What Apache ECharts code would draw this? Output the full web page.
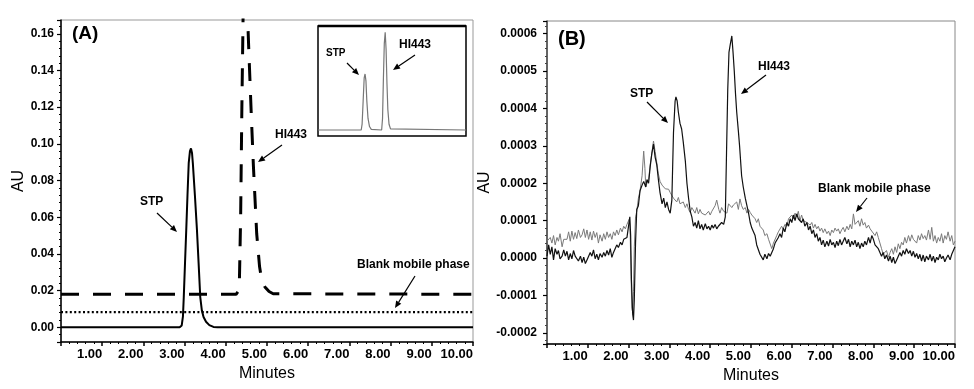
<!DOCTYPE html>
<html>
<head>
<meta charset="utf-8">
<title>HPLC chromatograms</title>
<script src="https://cdn.jsdelivr.net/npm/echarts@6/dist/echarts.min.js"></script>
<style>
html, body { margin: 0; padding: 0; background: #fff; }
#chart { width: 974px; height: 389px; }
</style>
</head>
<body>
<div id="chart"></div>
<script>
// panel A, [minutes, AU]
const stpA = [[0, 0], [2.88, 0], [2.93, 0.001], [2.96, 0.006], [2.98, 0.0165], [3.01, 0.035], [3.04, 0.053],
  [3.07, 0.072], [3.10, 0.0895], [3.13, 0.096], [3.155, 0.0975], [3.18, 0.095], [3.20, 0.0895], [3.25, 0.072],
  [3.30, 0.053], [3.34, 0.035], [3.38, 0.0165], [3.42, 0.009], [3.46, 0.0056], [3.52, 0.003], [3.60, 0.0012],
  [3.70, 0.0002], [3.80, 0], [10, 0]]
const hi443A = [[0, 0.018], [4.25, 0.018], [4.30, 0.0195], [4.33, 0.025], [4.36, 0.06], [4.39, 0.12], [4.42, 0.17],
  [4.47, 0.19], [4.52, 0.175], [4.56, 0.15], [4.62, 0.115], [4.67, 0.088], [4.75, 0.051], [4.82, 0.033],
  [4.87, 0.026], [4.95, 0.022], [5.05, 0.0195], [5.15, 0.0183], [10, 0.018]]
const blankA = [[0, 0.0083], [10, 0.0083]]
// inset: whole chromatogram of the mix
const insetA = [[0, 0], [2.92, 0], [2.98, 0.01], [3.05, 0.05], [3.12, 0.09], [3.18, 0.097], [3.24, 0.085],
  [3.30, 0.05], [3.38, 0.02], [3.48, 0.006], [3.60, 0.001], [3.70, 0], [4.30, 0], [4.36, 0.02], [4.42, 0.09],
  [4.48, 0.15], [4.54, 0.169], [4.60, 0.14], [4.66, 0.08], [4.72, 0.035], [4.80, 0.01], [4.90, 0.002],
  [5.0, 0], [10, 0]]

// panel B, [minutes, AU]
const sampleB = [[0.00, 0.05e-4], [0.04, 0.35e-4], [0.08, 0.10e-4], [0.12, 0.30e-4], [0.16, -0.05e-4], [0.20, 0.25e-4],
  [0.245, 0.10e-4], [0.28, 0.20e-4], [0.32, -0.02e-4], [0.37, 0.05e-4], [0.41, 0.22e-4], [0.45, 0.05e-4],
  [0.49, 0.18e-4], [0.53, -0.05e-4], [0.57, 0.12e-4], [0.61, -0.02e-4], [0.65, 0.20e-4], [0.69, 0.05e-4],
  [0.73, 0.08e-4], [0.77, -0.08e-4], [0.82, 0.05e-4], [0.86, -0.12e-4], [0.90, 0.02e-4], [0.94, -0.15e-4],
  [0.98, -0.05e-4], [1.02, -0.10e-4], [1.06, 0.15e-4], [1.10, 0.05e-4], [1.14, 0.22e-4], [1.18, -0.02e-4],
  [1.22, 0.10e-4], [1.26, -0.05e-4], [1.30, 0.12e-4], [1.35, 0.02e-4], [1.39, 0.15e-4], [1.43, 0.05e-4],
  [1.47, 0.20e-4], [1.51, 0.08e-4], [1.55, 0.25e-4], [1.59, 0.02e-4], [1.63, 0.15e-4], [1.67, 0.20e-4],
  [1.71, 0.35e-4], [1.75, 0.28e-4], [1.80, 0.42e-4], [1.84, 0.35e-4], [1.88, 0.50e-4], [1.92, 0.45e-4],
  [1.96, 0.55e-4], [2.00, 0.50e-4], [2.03, 1.10e-4], [2.05, 0.60e-4], [2.07, -0.60e-4], [2.10, -1.50e-4],
  [2.12, -1.66e-4], [2.14, -1.10e-4], [2.17, 0.40e-4], [2.20, 1.30e-4], [2.24, 1.40e-4], [2.28, 1.80e-4],
  [2.33, 1.95e-4], [2.37, 2.05e-4], [2.42, 1.90e-4], [2.45, 2.10e-4], [2.49, 2.00e-4], [2.53, 2.45e-4],
  [2.57, 2.80e-4], [2.61, 3.05e-4], [2.65, 2.70e-4], [2.69, 2.50e-4], [2.73, 2.10e-4], [2.77, 1.75e-4],
  [2.82, 1.45e-4], [2.86, 1.60e-4], [2.90, 1.35e-4], [2.94, 1.50e-4], [2.98, 1.30e-4], [3.02, 1.20e-4],
  [3.06, 1.55e-4], [3.10, 3.35e-4], [3.14, 4.20e-4], [3.16, 4.31e-4], [3.19, 4.20e-4], [3.22, 3.90e-4],
  [3.26, 3.60e-4], [3.30, 3.45e-4], [3.34, 3.10e-4], [3.39, 2.60e-4], [3.43, 2.00e-4], [3.47, 1.60e-4],
  [3.51, 1.25e-4], [3.55, 1.10e-4], [3.59, 0.85e-4], [3.63, 0.95e-4], [3.67, 0.80e-4], [3.71, 1.00e-4],
  [3.75, 0.78e-4], [3.79, 0.90e-4], [3.83, 0.75e-4], [3.88, 0.92e-4], [3.92, 0.78e-4], [3.96, 0.85e-4],
  [4.00, 0.75e-4], [4.04, 0.88e-4], [4.08, 0.80e-4], [4.12, 0.90e-4], [4.16, 0.78e-4], [4.20, 0.85e-4],
  [4.24, 0.80e-4], [4.28, 0.95e-4], [4.33, 0.90e-4], [4.37, 1.10e-4], [4.40, 2.80e-4], [4.43, 4.50e-4],
  [4.46, 5.50e-4], [4.49, 5.70e-4], [4.51, 5.65e-4], [4.53, 5.94e-4], [4.56, 5.50e-4], [4.59, 5.00e-4],
  [4.62, 4.40e-4], [4.65, 3.90e-4], [4.69, 3.40e-4], [4.72, 3.00e-4], [4.77, 2.20e-4], [4.81, 1.90e-4],
  [4.86, 1.60e-4], [4.90, 1.40e-4], [4.94, 1.20e-4], [4.98, 0.95e-4], [5.02, 0.80e-4], [5.06, 0.70e-4],
  [5.10, 0.60e-4], [5.14, 0.35e-4], [5.18, 0.30e-4], [5.22, 0.10e-4], [5.26, 0.15e-4], [5.30, -0.05e-4],
  [5.34, 0.10e-4], [5.39, -0.02e-4], [5.43, 0.12e-4], [5.47, 0.05e-4], [5.51, 0.15e-4], [5.55, 0.25e-4],
  [5.59, 0.40e-4], [5.63, 0.35e-4], [5.67, 0.55e-4], [5.71, 0.65e-4], [5.75, 0.55e-4], [5.79, 0.80e-4],
  [5.83, 0.70e-4], [5.88, 0.95e-4], [5.92, 0.85e-4], [5.96, 1.05e-4], [6.00, 0.95e-4], [6.04, 1.15e-4],
  [6.08, 1.00e-4], [6.12, 1.18e-4], [6.16, 1.05e-4], [6.20, 1.10e-4], [6.24, 0.95e-4], [6.28, 1.05e-4],
  [6.32, 0.85e-4], [6.37, 0.95e-4], [6.41, 0.75e-4], [6.45, 0.85e-4], [6.49, 0.65e-4], [6.53, 0.75e-4],
  [6.57, 0.55e-4], [6.61, 0.65e-4], [6.65, 0.45e-4], [6.69, 0.55e-4], [6.73, 0.35e-4], [6.77, 0.48e-4],
  [6.81, 0.30e-4], [6.86, 0.45e-4], [6.90, 0.32e-4], [6.94, 0.50e-4], [6.98, 0.35e-4], [7.02, 0.42e-4],
  [7.06, 0.28e-4], [7.10, 0.45e-4], [7.14, 0.33e-4], [7.18, 0.50e-4], [7.22, 0.35e-4], [7.26, 0.40e-4],
  [7.30, 0.55e-4], [7.35, 0.38e-4], [7.39, 0.50e-4], [7.43, 0.30e-4], [7.47, 0.45e-4], [7.51, 0.35e-4],
  [7.55, 0.48e-4], [7.59, 0.30e-4], [7.63, 0.42e-4], [7.67, 0.25e-4], [7.71, 0.40e-4], [7.75, 0.30e-4],
  [7.79, 0.45e-4], [7.83, 0.35e-4], [7.88, 0.55e-4], [7.92, 0.40e-4], [7.96, 0.60e-4], [8.00, 0.50e-4],
  [8.04, 0.35e-4], [8.08, 0.40e-4], [8.12, 0.25e-4], [8.16, 0.20e-4], [8.20, 0.05e-4], [8.24, 0.15e-4],
  [8.28, -0.02e-4], [8.32, 0.08e-4], [8.37, -0.08e-4], [8.41, 0.05e-4], [8.45, -0.12e-4], [8.49, 0.02e-4],
  [8.53, -0.15e-4], [8.57, -0.05e-4], [8.61, 0.05e-4], [8.65, 0.15e-4], [8.69, 0.05e-4], [8.73, 0.20e-4],
  [8.77, 0.10e-4], [8.81, 0.25e-4], [8.86, 0.12e-4], [8.90, 0.20e-4], [8.94, 0.05e-4], [8.98, 0.18e-4],
  [9.02, 0.02e-4], [9.06, 0.12e-4], [9.10, -0.02e-4], [9.14, 0.10e-4], [9.18, -0.08e-4], [9.22, 0.08e-4],
  [9.26, -0.10e-4], [9.30, 0.05e-4], [9.35, -0.05e-4], [9.39, 0.10e-4], [9.43, -0.08e-4], [9.47, 0.05e-4],
  [9.51, -0.12e-4], [9.55, 0.02e-4], [9.59, -0.05e-4], [9.63, 0.10e-4], [9.67, -0.02e-4], [9.71, 0.05e-4],
  [9.75, -0.10e-4], [9.79, 0.00], [9.83, 0.08e-4], [9.88, -0.05e-4], [9.92, 0.10e-4], [9.96, 0.20e-4],
  [10.0, 0.30e-4]]
const blankB = [[0.00, 0.45e-4], [0.04, 0.42e-4], [0.08, 0.55e-4], [0.12, 0.40e-4], [0.16, 0.60e-4], [0.20, 0.35e-4],
  [0.245, 0.55e-4], [0.28, 0.45e-4], [0.32, 0.65e-4], [0.37, 0.30e-4], [0.41, 0.50e-4], [0.45, 0.55e-4],
  [0.49, 0.50e-4], [0.53, 0.70e-4], [0.57, 0.45e-4], [0.61, 0.72e-4], [0.65, 0.50e-4], [0.69, 0.68e-4],
  [0.73, 0.52e-4], [0.77, 0.75e-4], [0.82, 0.55e-4], [0.86, 0.62e-4], [0.90, 0.78e-4], [0.94, 0.55e-4],
  [0.98, 0.75e-4], [1.02, 0.50e-4], [1.06, 0.70e-4], [1.10, 0.48e-4], [1.14, 0.72e-4], [1.18, 0.55e-4],
  [1.22, 0.68e-4], [1.26, 0.40e-4], [1.30, 0.62e-4], [1.35, 0.45e-4], [1.39, 0.65e-4], [1.43, 0.50e-4],
  [1.47, 0.70e-4], [1.51, 0.55e-4], [1.55, 0.65e-4], [1.59, 0.50e-4], [1.63, 0.70e-4], [1.67, 0.60e-4],
  [1.71, 0.75e-4], [1.75, 0.62e-4], [1.80, 0.80e-4], [1.84, 0.70e-4], [1.88, 0.85e-4], [1.92, 0.78e-4],
  [1.96, 0.90e-4], [2.00, 0.85e-4], [2.02, 1.05e-4], [2.04, 0.60e-4], [2.06, -0.50e-4], [2.08, -1.35e-4],
  [2.10, -1.45e-4], [2.12, -0.90e-4], [2.14, 0.30e-4], [2.17, 1.10e-4], [2.20, 1.25e-4], [2.24, 1.60e-4],
  [2.28, 1.80e-4], [2.33, 2.20e-4], [2.37, 2.86e-4], [2.40, 2.40e-4], [2.42, 1.90e-4], [2.45, 2.00e-4],
  [2.49, 2.10e-4], [2.53, 2.50e-4], [2.57, 2.80e-4], [2.61, 3.13e-4], [2.65, 2.85e-4], [2.69, 2.55e-4],
  [2.73, 2.25e-4], [2.77, 2.05e-4], [2.82, 1.95e-4], [2.86, 1.90e-4], [2.90, 1.85e-4], [2.94, 1.80e-4],
  [2.98, 1.84e-4], [3.02, 1.75e-4], [3.06, 1.76e-4], [3.10, 1.60e-4], [3.14, 1.58e-4], [3.18, 1.50e-4],
  [3.22, 1.62e-4], [3.26, 1.45e-4], [3.30, 1.40e-4], [3.34, 1.50e-4], [3.39, 1.35e-4], [3.43, 1.45e-4],
  [3.47, 1.30e-4], [3.51, 1.22e-4], [3.55, 1.35e-4], [3.59, 1.30e-4], [3.63, 1.20e-4], [3.67, 1.35e-4],
  [3.71, 1.18e-4], [3.75, 1.30e-4], [3.79, 1.20e-4], [3.83, 1.25e-4], [3.88, 1.15e-4], [3.92, 1.10e-4],
  [3.96, 1.25e-4], [4.00, 1.15e-4], [4.04, 1.25e-4], [4.08, 1.20e-4], [4.12, 1.40e-4], [4.16, 1.55e-4],
  [4.18, 1.60e-4], [4.21, 1.30e-4], [4.24, 1.20e-4], [4.28, 1.35e-4], [4.33, 1.25e-4], [4.37, 1.30e-4],
  [4.41, 1.20e-4], [4.45, 1.45e-4], [4.49, 1.50e-4], [4.53, 1.35e-4], [4.57, 1.42e-4], [4.61, 1.40e-4],
  [4.65, 1.50e-4], [4.69, 1.30e-4], [4.73, 1.58e-4], [4.77, 1.40e-4], [4.81, 1.30e-4], [4.86, 1.35e-4],
  [4.90, 1.20e-4], [4.94, 1.30e-4], [4.98, 1.22e-4], [5.02, 1.15e-4], [5.06, 1.20e-4], [5.10, 1.05e-4],
  [5.14, 0.95e-4], [5.18, 1.05e-4], [5.22, 0.85e-4], [5.26, 0.90e-4], [5.30, 0.75e-4], [5.34, 0.60e-4],
  [5.39, 0.65e-4], [5.43, 0.50e-4], [5.47, 0.55e-4], [5.51, 0.25e-4], [5.55, 0.40e-4], [5.59, 0.45e-4],
  [5.63, 0.60e-4], [5.67, 0.70e-4], [5.71, 0.65e-4], [5.75, 0.85e-4], [5.79, 0.78e-4], [5.83, 0.90e-4],
  [5.88, 0.85e-4], [5.92, 1.05e-4], [5.96, 1.00e-4], [6.00, 1.15e-4], [6.04, 1.05e-4], [6.08, 1.20e-4],
  [6.12, 1.10e-4], [6.16, 1.25e-4], [6.20, 1.00e-4], [6.24, 1.15e-4], [6.28, 1.00e-4], [6.32, 1.05e-4],
  [6.37, 0.95e-4], [6.41, 1.00e-4], [6.45, 0.88e-4], [6.49, 0.95e-4], [6.53, 0.80e-4], [6.57, 0.90e-4],
  [6.61, 0.78e-4], [6.65, 0.85e-4], [6.69, 0.72e-4], [6.73, 0.80e-4], [6.77, 0.68e-4], [6.81, 0.78e-4],
  [6.86, 0.65e-4], [6.90, 0.72e-4], [6.94, 0.60e-4], [6.98, 0.75e-4], [7.02, 0.68e-4], [7.06, 0.80e-4],
  [7.10, 0.72e-4], [7.14, 0.78e-4], [7.18, 0.65e-4], [7.22, 0.75e-4], [7.26, 0.82e-4], [7.30, 0.70e-4],
  [7.35, 0.85e-4], [7.39, 0.75e-4], [7.43, 0.90e-4], [7.47, 0.78e-4], [7.51, 1.18e-4], [7.55, 0.90e-4],
  [7.59, 0.92e-4], [7.63, 1.00e-4], [7.67, 0.85e-4], [7.71, 1.05e-4], [7.75, 0.88e-4], [7.79, 0.95e-4],
  [7.83, 0.80e-4], [7.88, 0.88e-4], [7.92, 0.78e-4], [7.96, 0.72e-4], [8.00, 0.70e-4], [8.04, 0.60e-4],
  [8.08, 0.70e-4], [8.12, 0.55e-4], [8.16, 0.50e-4], [8.20, 0.25e-4], [8.24, 0.10e-4], [8.28, 0.05e-4],
  [8.32, 0.20e-4], [8.37, 0.02e-4], [8.41, 0.15e-4], [8.45, 0.25e-4], [8.49, 0.10e-4], [8.53, 0.30e-4],
  [8.57, 0.15e-4], [8.61, 0.38e-4], [8.65, 0.25e-4], [8.69, 0.42e-4], [8.73, 0.35e-4], [8.77, 0.55e-4],
  [8.81, 0.40e-4], [8.86, 0.60e-4], [8.90, 0.45e-4], [8.94, 0.62e-4], [8.98, 0.50e-4], [9.02, 0.55e-4],
  [9.06, 0.40e-4], [9.10, 0.60e-4], [9.14, 0.48e-4], [9.18, 0.65e-4], [9.22, 0.52e-4], [9.26, 0.60e-4],
  [9.30, 0.48e-4], [9.35, 0.75e-4], [9.39, 0.50e-4], [9.43, 0.82e-4], [9.47, 0.45e-4], [9.51, 0.60e-4],
  [9.55, 0.40e-4], [9.59, 0.55e-4], [9.63, 0.45e-4], [9.67, 0.65e-4], [9.71, 0.40e-4], [9.75, 0.60e-4],
  [9.79, 0.50e-4], [9.83, 0.70e-4], [9.88, 0.45e-4], [9.92, 0.60e-4], [9.96, 0.35e-4], [10.0, 0.45e-4]]

const FONT = '"Liberation Sans", Arial, sans-serif'

function timeAxis(gridIndex) {
  return {
    type: 'value', gridIndex: gridIndex, min: 0, max: 10, interval: 1,
    axisLine: { onZero: false, lineStyle: { color: '#000', width: 1.5 } },
    axisTick: { length: 4, lineStyle: { color: '#000', width: 1.5 } },
    minorTick: { show: true, splitNumber: 5, length: 2, lineStyle: { color: '#000', width: 1 } },
    splitLine: { show: false },
    axisLabel: {
      align: 'right', margin: 6, color: '#000', fontFamily: FONT, fontSize: 13, fontWeight: 'bold',
      formatter: v => v === 0 ? '' : v.toFixed(2)
    },
    name: 'Minutes', nameLocation: 'middle', nameGap: 18,
    nameTextStyle: { color: '#000', fontFamily: FONT, fontSize: 16 }
  }
}

function auAxis(gridIndex, min, max, digits, gap, lineColor) {
  return {
    type: 'value', gridIndex: gridIndex, min: min, max: max, splitNumber: 8,
    axisLine: { show: true, onZero: false, lineStyle: { color: lineColor, width: 1.5 } },
    axisTick: { length: 4, lineStyle: { color: '#000', width: 1.2 } },
    minorTick: { show: true, splitNumber: 5, length: 2, lineStyle: { color: '#444', width: 1 } },
    splitLine: { show: false },
    axisLabel: {
      showMinLabel: false, showMaxLabel: false, margin: digits > 2 ? 10 : 7,
      color: '#000', fontFamily: FONT, fontSize: 12, fontWeight: 'bold',
      formatter: v => v.toFixed(digits)
    },
    name: 'AU', nameLocation: 'middle', nameGap: gap, nameRotate: 90,
    nameTextStyle: { color: '#000', fontFamily: FONT, fontSize: 16 }
  }
}

function label(x, y, text, size) {
  return {
    type: 'text', x: x, y: y, z: 100,
    style: { text: text, font: 'bold ' + (size || 12) + 'px ' + FONT, fill: '#000',
      textAlign: 'left', textVerticalAlign: 'middle' }
  }
}

function arrow(x1, y1, x2, y2) {
  const a = Math.atan2(y2 - y1, x2 - x1)
  const len = 7, half = 3
  const bx = x2 - len * Math.cos(a), by = y2 - len * Math.sin(a)
  return [
    { type: 'line', z: 100, shape: { x1: x1, y1: y1, x2: bx, y2: by }, style: { stroke: '#000', lineWidth: 1.2 } },
    { type: 'polygon', z: 100, shape: { points: [[x2, y2],
      [bx + half * Math.sin(a), by - half * Math.cos(a)],
      [bx - half * Math.sin(a), by + half * Math.cos(a)]] }, style: { fill: '#000' } }
  ]
}

const chart = echarts.init(document.getElementById('chart'))

chart.setOption({
  animation: false,
  backgroundColor: '#fff',
  grid: [
    { left: 61, top: 20, width: 412, height: 322, show: true, borderColor: '#999', borderWidth: 1 },
    { left: 547, top: 21, width: 408, height: 323, show: true, borderColor: '#888', borderWidth: 1 },
    { left: 318, top: 26, width: 148, height: 110, show: true, borderColor: '#000', borderWidth: 1.5, z: 5 }
  ],
  xAxis: [
    timeAxis(0),
    timeAxis(1),
    { type: 'value', gridIndex: 2, min: 0, max: 10, show: false }
  ],
  yAxis: [
    auAxis(0, -0.008, 0.1675, 2, 33, '#000'),
    auAxis(1, -0.00023, 0.000634, 4, 52, '#444'),
    { type: 'value', gridIndex: 2, min: -0.0104, max: 0.18, show: false },
    {
      type: 'value', gridIndex: 0, position: 'right', min: -0.008, max: 0.1675, splitNumber: 8,
      axisLine: { show: false },
      axisTick: { inside: true, length: 3, lineStyle: { color: '#000' } },
      minorTick: { show: true, splitNumber: 5, length: 2, lineStyle: { color: '#000' } },
      axisLabel: { show: false }, splitLine: { show: false }
    }
  ],
  series: [
    { type: 'line', xAxisIndex: 0, yAxisIndex: 0, data: hi443A, showSymbol: false,
      lineStyle: { color: '#000', width: 3, type: [18, 14] } },
    { type: 'line', xAxisIndex: 0, yAxisIndex: 0, data: blankA, showSymbol: false,
      lineStyle: { color: '#000', width: 2.2, type: [2, 2.4] } },
    { type: 'line', xAxisIndex: 0, yAxisIndex: 0, data: stpA, showSymbol: false,
      lineStyle: { color: '#000', width: 2 } },
    { type: 'line', xAxisIndex: 2, yAxisIndex: 2, data: insetA, showSymbol: false, z: 6,
      lineStyle: { color: '#777', width: 1.2 } },
    { type: 'line', xAxisIndex: 1, yAxisIndex: 1, data: blankB, showSymbol: false,
      lineStyle: { color: '#7a7a7a', width: 1 } },
    { type: 'line', xAxisIndex: 1, yAxisIndex: 1, data: sampleB, showSymbol: false,
      lineStyle: { color: '#111', width: 1.2 } }
  ],
  graphic: [
    { type: 'line', z: 100, shape: { x1: 318, y1: 26, x2: 466, y2: 26 }, style: { stroke: '#000', lineWidth: 2.5 } },
    label(72, 34, '(A)', 19),
    label(140, 202, 'STP'),
    ...arrow(157, 213, 177, 232),
    label(275, 135, 'HI443'),
    ...arrow(282, 145, 258, 162),
    label(357, 265, 'Blank mobile phase'),
    ...arrow(415, 276, 395, 308),
    label(326, 53, 'STP', 10),
    ...arrow(347, 63, 359, 75),
    label(399, 45, 'HI443'),
    ...arrow(415, 55, 393, 70),
    label(558, 39, '(B)', 20),
    label(630, 94, 'STP'),
    ...arrow(647, 102, 668, 123),
    label(758, 67, 'HI443'),
    ...arrow(766, 75, 741, 94),
    label(818, 189, 'Blank mobile phase'),
    ...arrow(867, 198, 856, 212)
  ]
})
</script>
</body>
</html>
